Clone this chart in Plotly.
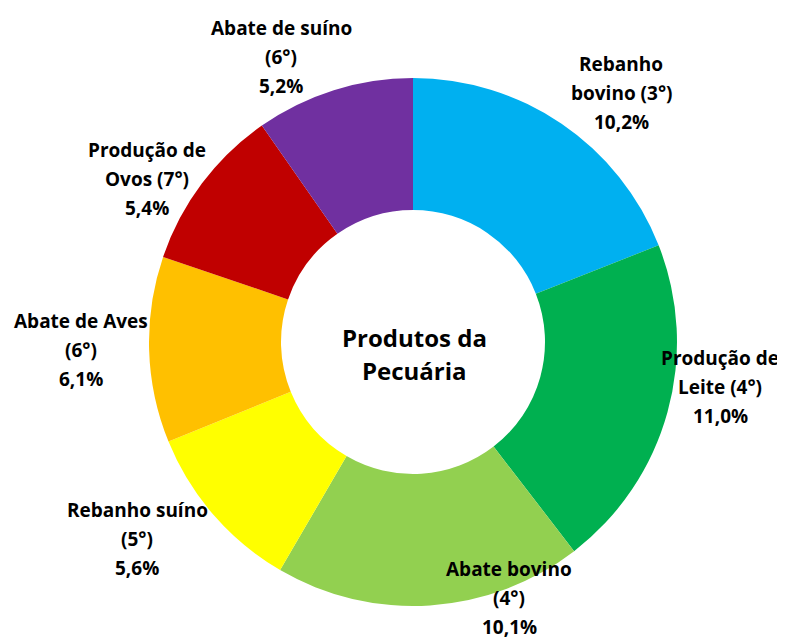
import plotly.graph_objects as go

# ---- data ----
categories = ["Rebanho bovino", "Produção de Leite", "Abate bovino", "Rebanho suíno",
              "Abate de Aves", "Produção de Ovos", "Abate de suíno"]
values = [10.2, 11.0, 10.1, 5.6, 6.1, 5.4, 5.2]
ranks = [3, 4, 4, 5, 6, 7, 6]
center_title = ["Produtos da", "Pecuária"]

# ---- style / layout ----
colors = ["#00B0F0", "#00B050", "#92D050", "#FFFF00", "#FFC000", "#C00000", "#7030A0"]
words_first_line = [1, 2, 2, 2, 3, 2, 3]
OFF = 8  # page body margin
W, H = 785 - OFF, 640 - OFF
# label block centres (pixels in the window) and line spacing
label_pos = [(621, 92), (720, 386), (509, 597), (137, 538), (81, 349), (147, 178), (281, 56)]
line_gap = 29
FONT = "Open Sans"

cx, cy, R = 413 - OFF, 342 - OFF, 264


def px2paper(px, py):
    return (px - OFF) / W, 1 - (py - OFF) / H


fig = go.Figure(go.Pie(
    labels=categories, values=values, sort=False, direction="clockwise", rotation=0,
    hole=0.5, marker=dict(colors=colors, line=dict(width=0)),
    textinfo="none", hoverinfo="label+value", showlegend=False,
    domain=dict(x=[(cx - R) / W, (cx + R) / W], y=[(H - cy - R) / H, (H - cy + R) / H]),
))

ann = []
for cat, v, rk, nw, (px, py) in zip(categories, values, ranks, words_first_line, label_pos):
    words = cat.split(" ")
    l1 = " ".join(words[:nw])
    rest = " ".join(words[nw:])
    l2 = (rest + " " if rest else "") + f"({rk}°)"
    l3 = f"{v:.1f}".replace(".", ",") + "%"
    for i, t in enumerate([l1, l2, l3]):
        yy = py + (i - 1) * line_gap
        x, y = px2paper(px, yy + 1)
        ann.append(dict(text=f"<b>{t}</b>", x=x, y=y, xref="paper", yref="paper",
                        xanchor="center", yanchor="middle", showarrow=False,
                        font=dict(family=FONT, size=19, color="#000000")))
for i, t in enumerate(center_title):
    yy = 336 + i * 33
    x, y = px2paper(414, yy + 1)
    ann.append(dict(text=f"<b>{t}</b>", x=x, y=y, xref="paper", yref="paper",
                    xanchor="center", yanchor="middle", showarrow=False,
                    font=dict(family=FONT, size=24, color="#000000")))

fig.update_layout(width=W, height=H, margin=dict(l=0, r=0, t=0, b=0),
                  paper_bgcolor="white", plot_bgcolor="white", annotations=ann)
fig.write_html("out.html")
